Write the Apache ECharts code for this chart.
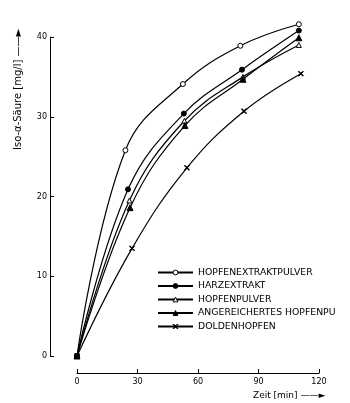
<!DOCTYPE html>
<html><head><meta charset="utf-8">
<script src="https://cdn.jsdelivr.net/npm/echarts@6/dist/echarts.min.js"></script>
<style>html,body{margin:0;padding:0;background:#fff}#c{width:350px;height:403px}</style>
</head><body><div id="c"></div>
<script>
const seriesNames = ['HOPFENEXTRAKTPULVER','HARZEXTRAKT','HOPFENPULVER','ANGEREICHERTES HOPFENPULVER','DOLDENHOPFEN'];
const xTicks = [0,30,60,90,120];
const yTicks = [0,10,20,30,40];
// [time (min), Iso-alpha acid (mg/l)]
const hopfenextraktpulver = [[0,0],[24,25.8],[52.5,34.1],[81,38.9],[110,41.6]];
const harzextrakt        = [[0,0],[25.3,20.9],[53,30.4],[81.8,35.9],[110,40.8]];
const hopfenpulver       = [[0,0],[26,19.5],[53.3,29.5],[82.3,35.0],[110,39.0]];
const angereichertes     = [[0,0],[26.3,18.6],[53.5,28.9],[82.3,34.7],[110,39.9]];
const doldenhopfen       = [[0,0],[27.3,13.5],[54.5,23.6],[82.8,30.7],[111,35.4]];

const font = 'DejaVu Sans';
const xMark = 'path://M0,1L1,0L5,4L9,0L10,1L6,5L10,9L9,10L5,6L1,10L0,9L4,5Z';
const styles = [
  {data: hopfenextraktpulver, symbol:'circle', fill:'#fff', size:5},
  {data: harzextrakt, symbol:'circle', fill:'#000', size:5},
  {data: hopfenpulver, symbol:'triangle', fill:'#fff', size:5},
  {data: angereichertes, symbol:'triangle', fill:'#000', size:6},
  {data: doldenhopfen, symbol:xMark, fill:'#000', size:5}
];
const chart = echarts.init(document.getElementById('c'));
chart.setOption({
  animation:false,
  backgroundColor:'#fff',
  grid:{left:77, right:31, top:37, bottom:47, containLabel:false},
  xAxis:{type:'value', min:0, max:120, interval:30, offset:17,
    axisLine:{show:true, onZero:false, lineStyle:{color:'#000', width:1}},
    axisTick:{show:true, inside:true, length:4, lineStyle:{color:'#000'}},
    axisLabel:{color:'#000', fontFamily:font, fontSize:8, margin:5,
      formatter:v=>xTicks.includes(v)?String(v):''},
    splitLine:{show:false}},
  yAxis:{type:'value', min:0, max:40, interval:10, offset:27,
    axisLine:{show:true, onZero:false, lineStyle:{color:'#000', width:1}},
    axisTick:{show:true, inside:true, length:4, lineStyle:{color:'#000'}},
    axisLabel:{color:'#000', fontFamily:font, fontSize:8, margin:3,
      formatter:v=>yTicks.includes(v)?String(v):''},
    splitLine:{show:false}},
  legend:{orient:'vertical', left:152, top:263, itemGap:4.5, itemWidth:35, itemHeight:6,
    textStyle:{color:'#000', fontFamily:font, fontSize:9.3, width:142, overflow:'truncate', ellipsis:''},
    data:seriesNames.map((n,i)=>({name:n, itemStyle:{color:styles[i].fill, borderColor:'#000', borderWidth:1}}))},
  graphic:[
    {type:'text', left:253, top:391, style:{text:'Zeit [min] ——►', font:'9px "DejaVu Sans"', fill:'#000'}},
    {type:'text', x:13, y:150, rotation:Math.PI/2, style:{text:'Iso-α-Säure [mg/l] ——►', font:'10px "DejaVu Sans"', fill:'#000'}}
  ],
  series: styles.map((s,i)=>({
    name:seriesNames[i], type:'line', smooth:0.4, clip:false,
    data:s.data, symbol:s.symbol, symbolSize:s.size, showAllSymbol:true,
    lineStyle:{color:'#000', width:1.2},
    itemStyle:{color:s.fill, borderColor:'#000', borderWidth:1}
  }))
});
</script></body></html>
